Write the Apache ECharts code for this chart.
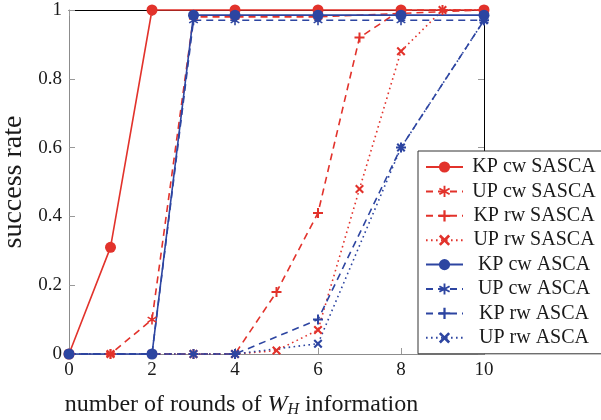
<!DOCTYPE html>
<html>
<head>
<meta charset="utf-8">
<script src="https://cdn.jsdelivr.net/npm/echarts@6/dist/echarts.min.js"></script>
<style>
html,body{margin:0;padding:0;background:#fff;}
#chart{width:601px;height:420px;}
</style>
</head>
<body>
<div id="chart"></div>
<script>
// ---- data ----
const seriesNames = ['KP cw SASCA','UP cw SASCA','KP rw SASCA','UP rw SASCA','KP cw ASCA','UP cw ASCA','KP rw ASCA','UP rw ASCA'];
const xKPcwSASCA = [0, 1, 2, 4, 6, 8, 10];
const yKPcwSASCA = [0, 0.31, 1, 1, 1, 1, 1];
const xUPcwSASCA = [0, 1, 2, 3, 4, 6, 8, 10];
const yUPcwSASCA = [0, 0, 0.1, 0.98, 0.98, 0.98, 0.99, 1];
const xRwSASCA = [0, 1, 2, 3, 4, 5, 6, 7, 8, 9, 10];
const yKPrwSASCA = [0, 0, 0, 0, 0, 0.18, 0.41, 0.92, 1, 1, 1];
const yUPrwSASCA = [0, 0, 0, 0, 0, 0.01, 0.07, 0.48, 0.88, 1, 1];
const xASCA = [0, 2, 3, 4, 6, 8, 10];
const yKPcwASCA = [0, 0, 0.985, 0.985, 0.985, 0.985, 0.985];
const yUPcwASCA = [0, 0, 0.97, 0.97, 0.97, 0.97, 0.97];
const yKPrwASCA = [0, 0, 0, 0, 0.1, 0.6, 0.97];
const yUPrwASCA = [0, 0, 0, 0, 0.03, 0.6, 0.97];
const xTickLabels = ['0','2','4','6','8','10'];
const yTickLabels = ['0','0.2','0.4','0.6','0.8','1'];

// ---- styles ----
const RED = '#e2322b';
const BLUE = '#2d45a1';
const FONT = 'Liberation Serif';
const PLUS = 'path://M-1,-5L1,-5L1,-1L5,-1L5,1L1,1L1,5L-1,5L-1,1L-5,1L-5,-1L-1,-1Z';
const CROSS = 'path://M2.83,-4.24L4.24,-2.83L1.41,0L4.24,2.83L2.83,4.24L0,1.41L-2.83,4.24L-4.24,2.83L-1.41,0L-4.24,-2.83L-2.83,-4.24L0,-1.41Z';
const STAR = 'path://M-0.8,-5L0.8,-5L0.8,5L-0.8,5Z M3.93,-3.19L4.73,-1.81L-3.93,3.19L-4.73,1.81Z M-4.73,-1.81L-3.93,-3.19L4.73,1.81L3.93,3.19Z';

function pairs(xs, ys){ return xs.map((x,i)=>[x, ys[i]]); }

function mk(name, xs, ys, color, type, symbol, size){
  return {
    name: name, type: 'line', data: pairs(xs, ys),
    symbol: symbol, symbolSize: size, symbolKeepAspect: true,
    clip: false,
    lineStyle: {color: color, width: 1.6, type: type},
    itemStyle: {color: color},
    emphasis: {disabled: true},
    animation: false
  };
}
const DASH = [7, 5];
const DOT = [1.6, 3.4];

const series = [
  mk(seriesNames[0], xKPcwSASCA, yKPcwSASCA, RED, 'solid', 'circle', 11),
  mk(seriesNames[1], xUPcwSASCA, yUPcwSASCA, RED, DASH, STAR, 10),
  mk(seriesNames[2], xRwSASCA, yKPrwSASCA, RED, DASH, PLUS, 10),
  mk(seriesNames[3], xRwSASCA, yUPrwSASCA, RED, DOT, CROSS, 9),
  mk(seriesNames[4], xASCA, yKPcwASCA, BLUE, 'solid', 'circle', 11),
  mk(seriesNames[5], xASCA, yUPcwASCA, BLUE, DASH, STAR, 10),
  mk(seriesNames[6], xASCA, yKPrwASCA, BLUE, DASH, PLUS, 10),
  mk(seriesNames[7], xASCA, yUPrwASCA, BLUE, DOT, CROSS, 9)
];

const chart = echarts.init(document.getElementById('chart'), null, {renderer: 'canvas'});
const tickStyle = {color: '#999', width: 1};
chart.setOption({
  animation: false,
  backgroundColor: '#fff',
  grid: {left: 69, right: 117, top: 10, bottom: 66, show: false, containLabel: false, outerBoundsMode: 'none'},
  xAxis: [{
    type: 'value', min: 0, max: 10, interval: 2, position: 'bottom',
    axisLine: {show: true, onZero: false, lineStyle: {color: '#8c8c8c', width: 1}},
    axisTick: {show: true, inside: true, length: 6, lineStyle: tickStyle},
    splitLine: {show: false},
    axisLabel: {fontFamily: FONT, fontSize: 19, color: '#1a1a1a', margin: 7,
      formatter: v => xTickLabels[Math.round(v/2)]},
    name: 'number of rounds of {i|W}{s|H} information',
    nameLocation: 'middle', nameGap: 38,
    nameTextStyle: {fontFamily: FONT, fontSize: 24, color: '#1a1a1a', padding: [0, 70, 0, 0],
      rich: {
        i: {fontFamily: FONT, fontSize: 24, fontStyle: 'italic', color: '#1a1a1a'},
        s: {fontFamily: FONT, fontSize: 16, fontStyle: 'italic', color: '#1a1a1a', padding: [10, 0, 0, 0]}
      }}
  }, {
    type: 'value', min: 0, max: 10, interval: 2, position: 'top',
    axisLine: {show: true, onZero: false, lineStyle: {color: '#000', width: 1}},
    axisTick: {show: true, inside: true, length: 6, lineStyle: tickStyle},
    axisLabel: {show: false}, splitLine: {show: false}
  }],
  yAxis: [{
    type: 'value', min: 0, max: 1, interval: 0.2, position: 'left',
    axisLine: {show: true, onZero: false, lineStyle: {color: '#8c8c8c', width: 1}},
    axisTick: {show: true, inside: true, length: 6, lineStyle: tickStyle},
    splitLine: {show: false},
    axisLabel: {fontFamily: FONT, fontSize: 19, color: '#1a1a1a', margin: 7,
      formatter: v => yTickLabels[Math.round(v*5)]},
    name: 'success rate', nameLocation: 'middle', nameGap: 41, nameRotate: 90,
    nameTextStyle: {fontFamily: FONT, fontSize: 28, color: '#1a1a1a'}
  }, {
    type: 'value', min: 0, max: 1, interval: 0.2, position: 'right',
    axisLine: {show: true, onZero: false, lineStyle: {color: '#000', width: 1}},
    axisTick: {show: true, inside: true, length: 6, lineStyle: tickStyle},
    axisLabel: {show: false}, splitLine: {show: false}
  }],
  legend: {
    orient: 'vertical', left: 418, top: 151,
    data: seriesNames,
    backgroundColor: '#fff', borderColor: '#333', borderWidth: 1,
    padding: [6, 6, 6, 7],
    itemWidth: 37, itemHeight: 14, itemGap: 4.4,
    z: 10,
    selectedMode: false,
    formatter: '{c|{name}}',
    textStyle: {fontFamily: FONT, fontSize: 20, color: '#1a1a1a', lineHeight: 20,
      rich: {c: {fontFamily: FONT, fontSize: 20, color: '#1a1a1a', width: 132, align: 'center', lineHeight: 20}}}
  },
  series: series
});
</script>
</body>
</html>
